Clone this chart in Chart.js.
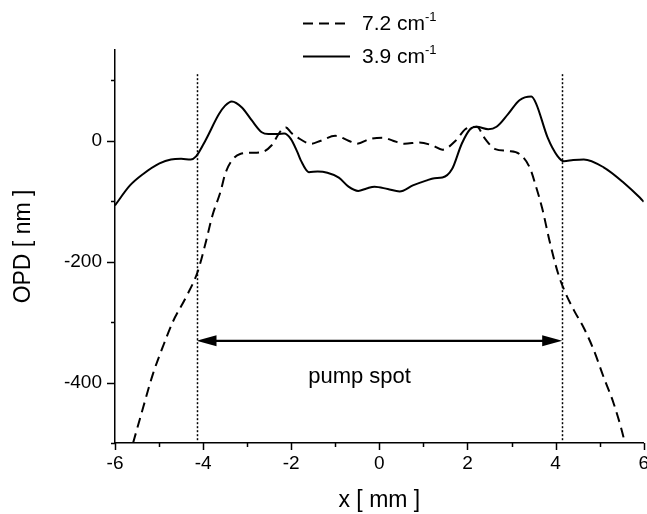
<!DOCTYPE html>
<html><head><meta charset="utf-8">
<script src="https://cdn.jsdelivr.net/npm/chart.js@4/dist/chart.umd.min.js"></script>
<style>
html,body{margin:0;padding:0;background:#fff;overflow:hidden;width:647px;height:514px}
#wrap{position:absolute;left:0;top:0;width:651px;height:514px}
</style>
</head><body><div id="wrap"><canvas id="c" width="651" height="514"></canvas></div>
<script>
// ---- data ----
const seriesNames = ['7.2 cm', '3.9 cm'];
const seriesSup = ['-1', '-1'];

const xSolid = [-6, -5.66, -5.36, -4.99, -4.73, -4.5, -4.28, -4.16, -3.95, -3.64, -3.5, -3.35, -3.12, -2.89, -2.67, -2.52, -2.3, -2.16, -2.01, -1.86, -1.78, -1.6, -1.4, -1.18, -0.92, -0.7, -0.48, -0.29, -0.11, 0.19, 0.46, 0.76, 1.06, 1.25, 1.43, 1.65, 1.87, 2.06, 2.21, 2.47, 2.66, 2.92, 3.18, 3.45, 3.56, 3.82, 4.04, 4.19, 4.4, 4.64, 5.09, 5.54, 5.91, 6];
const ySolid = [-107, -74, -55, -37.5, -31, -30, -31, -26, 0, 44, 58, 65, 55, 33, 14, 11, 11, 12, 3, -19, -33, -52, -51, -53, -61, -76, -83, -79, -76, -80, -84, -74, -66, -62, -61, -47, -5, 19, 23, 19, 23, 44, 67, 73, 61, 5, -25, -34, -32, -31, -44, -69, -94, -101];

const xDashed = [-5.59, -5.36, -5.14, -4.92, -4.69, -4.39, -4.13, -3.95, -3.79, -3.6, -3.5, -3.35, -3.16, -2.9, -2.67, -2.45, -2.23, -2.12, -2.0, -1.85, -1.55, -1.33, -1.0, -0.7, -0.51, -0.21, 0.08, 0.31, 0.57, 0.91, 1.21, 1.43, 1.73, 1.95, 2.05, 2.21, 2.4, 2.63, 2.92, 3.18, 3.41, 3.56, 3.7, 3.86, 4.05, 4.2, 4.42, 4.65, 4.87, 5.09, 5.32, 5.54, 5.57];
const yDashed = [-500, -441, -386, -342, -300, -259, -218, -171, -124, -83, -55, -33, -22, -20, -19, -8, 17, 22, 13, 5, -5, 0, 8, 0, -5, 3, 5, 0, -5, -3, -8, -15, 0, 19, 22, 23, 3, -14, -17, -22, -44, -77, -113, -165, -218, -248, -281, -311, -347, -391, -435, -490, -500];

const xTickLabels = [-6, -4, -2, 0, 2, 4, 6];
const yTickLabels = [-400, -200, 0];
const xTickValues = [-6, -5, -4, -3, -2, -1, 0, 1, 2, 3, 4, 5, 6];
const yTickValues = [-500, -400, -300, -200, -100, 0, 100];

const pumpSpotEdges = [-4.15, 4.15];
const pumpArrowY = -331;
const markerTop = 110;
const pumpLabel = 'pump spot';
const pumpLabelPos = [-0.45, -390];

const FONT = '"Liberation Sans", Arial, Helvetica, sans-serif';

function pts(xs, ys) { return xs.map((x, i) => ({x: x, y: ys[i]})); }

const overlay = {
  id: 'overlay',
  afterDraw(chart) {
    const ctx = chart.ctx;
    const xs = chart.scales.x, ys = chart.scales.y;
    const area = chart.chartArea;
    ctx.save();
    ctx.strokeStyle = '#000';
    ctx.fillStyle = '#000';
    // ticks
    ctx.lineWidth = 1.5;
    ctx.setLineDash([]);
    xTickValues.forEach(v => {
      const px = Math.round(xs.getPixelForValue(v)) + 0.5;
      const len = xTickLabels.includes(v) ? 7 : 4;
      ctx.beginPath(); ctx.moveTo(px, area.bottom); ctx.lineTo(px, area.bottom + len); ctx.stroke();
    });
    yTickValues.forEach(v => {
      const py = Math.round(ys.getPixelForValue(v)) + 0.5;
      const len = yTickLabels.includes(v) ? 8 : 4;
      ctx.beginPath(); ctx.moveTo(area.left, py); ctx.lineTo(area.left - len, py); ctx.stroke();
    });
    // dotted markers
    ctx.lineWidth = 1.5;
    ctx.setLineDash([2, 2]);
    pumpSpotEdges.forEach(v => {
      const px = Math.round(xs.getPixelForValue(v)) + 0.5;
      ctx.beginPath(); ctx.moveTo(px, ys.getPixelForValue(markerTop)); ctx.lineTo(px, area.bottom); ctx.stroke();
    });
    // arrow
    ctx.setLineDash([]);
    const ax1 = xs.getPixelForValue(pumpSpotEdges[0]);
    const ax2 = xs.getPixelForValue(pumpSpotEdges[1]);
    const ay = ys.getPixelForValue(pumpArrowY);
    const hl = 20, hw = 5.5;
    ctx.lineWidth = 2.2;
    ctx.beginPath(); ctx.moveTo(ax1 + hl - 2, ay); ctx.lineTo(ax2 - hl + 2, ay); ctx.stroke();
    ctx.beginPath(); ctx.moveTo(ax1, ay); ctx.lineTo(ax1 + hl, ay - hw); ctx.lineTo(ax1 + hl, ay + hw); ctx.closePath(); ctx.fill();
    ctx.beginPath(); ctx.moveTo(ax2, ay); ctx.lineTo(ax2 - hl, ay - hw); ctx.lineTo(ax2 - hl, ay + hw); ctx.closePath(); ctx.fill();
    // pump spot label
    ctx.font = '22px ' + FONT;
    ctx.textAlign = 'center';
    ctx.textBaseline = 'middle';
    ctx.fillText(pumpLabel, xs.getPixelForValue(pumpLabelPos[0]), ys.getPixelForValue(pumpLabelPos[1]));
    // legend
    const legY = [23, 56];
    const legX1 = 303, legX2 = 350, textX = 362;
    ctx.textAlign = 'left';
    ctx.textBaseline = 'alphabetic';
    for (let i = 0; i < 2; i++) {
      ctx.lineWidth = 2;
      ctx.setLineDash(i === 0 ? [10, 6] : []);
      ctx.beginPath(); ctx.moveTo(legX1, legY[i] + 0.5); ctx.lineTo(legX2, legY[i] + 0.5); ctx.stroke();
      ctx.setLineDash([]);
      ctx.font = '21px ' + FONT;
      const base = legY[i] + 7;
      ctx.fillText(seriesNames[i], textX, base);
      const w = ctx.measureText(seriesNames[i]).width;
      ctx.font = '13px ' + FONT;
      ctx.fillText(seriesSup[i], textX + w, base - 9);
    }
    ctx.restore();
  }
};

new Chart(document.getElementById('c'), {
  type: 'scatter',
  data: {
    datasets: [
      { label: seriesNames[0] + seriesSup[0], data: pts(xDashed, yDashed), showLine: true, borderColor: '#000', borderWidth: 2, borderDash: [10, 6], pointRadius: 0, cubicInterpolationMode: 'monotone', fill: false },
      { label: seriesNames[1] + seriesSup[1], data: pts(xSolid, ySolid), showLine: true, borderColor: '#000', borderWidth: 2, pointRadius: 0, cubicInterpolationMode: 'monotone', fill: false }
    ]
  },
  options: {
    responsive: false,
    animation: false,
    devicePixelRatio: 1,
    layout: { autoPadding: false, padding: { top: 50, right: 0, bottom: 0, left: 0 } },
    plugins: { legend: { display: false }, tooltip: { enabled: false } },
    scales: {
      x: {
        type: 'linear', min: -6, max: 6, position: 'bottom',
        afterFit(s) { s.height = 71; },
        afterBuildTicks(s) { s.ticks = xTickValues.map(v => ({value: v})); },
        ticks: { color: '#000', font: { family: FONT, size: 19 }, padding: 2, maxRotation: 0, autoSkip: false,
          callback: v => xTickLabels.includes(v) ? String(v) : '' },
        grid: { display: true, drawOnChartArea: false, drawTicks: true, tickLength: 7, tickColor: 'rgba(0,0,0,0)' },
        border: { display: true, color: '#000', width: 1.5 },
        title: { display: true, text: 'x [ mm ]', color: '#000', font: { family: FONT, size: 23 }, padding: { top: 0, bottom: 0 } }
      },
      y: {
        type: 'linear', min: -500, max: 150, position: 'left',
        afterFit(s) { s.width = 115; },
        afterBuildTicks(s) { s.ticks = yTickValues.map(v => ({value: v})); },
        ticks: { color: '#000', font: { family: FONT, size: 19 }, padding: 5, autoSkip: false,
          callback: v => yTickLabels.includes(v) ? String(v) : '' },
        grid: { display: true, drawOnChartArea: false, drawTicks: true, tickLength: 8, tickColor: 'rgba(0,0,0,0)' },
        border: { display: true, color: '#000', width: 1.5 },
        title: { display: true, text: 'OPD [ nm ]', color: '#000', font: { family: FONT, size: 23 }, padding: { top: 10, bottom: 0 } }
      }
    }
  },
  plugins: [overlay]
});
</script>
</body></html>
